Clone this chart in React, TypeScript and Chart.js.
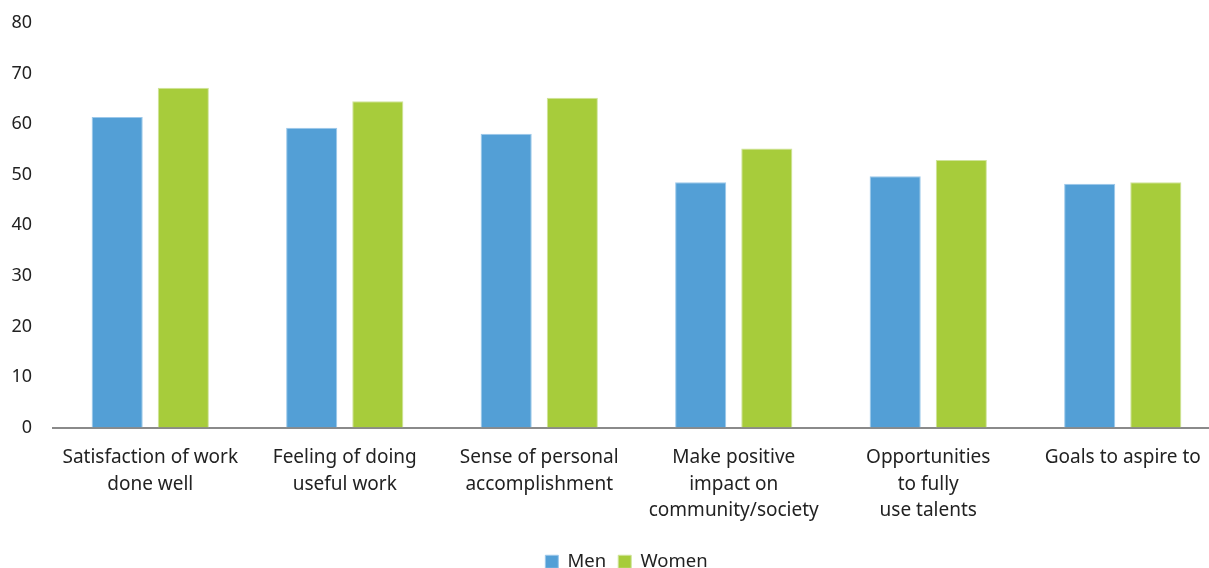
import React, { useEffect, useRef } from "react";
import { Chart, registerables } from "chart.js";

Chart.register(...registerables);

const categories: string[][] = [
  ["Satisfaction of work", "done well"],
  ["Feeling of doing", "useful work"],
  ["Sense of personal", "accomplishment"],
  ["Make positive", "impact on", "community/society"],
  ["Opportunities", "to fully", "use talents"],
  ["Goals to aspire to"],
];
const menValues = [61.4, 59.3, 58.1, 48.5, 49.7, 48.2];
const womenValues = [67.2, 64.5, 65.2, 55.2, 52.9, 48.5];
const yTicks = { min: 0, max: 80, step: 10 };

const FONT = "'Noto Sans', sans-serif";

const legendShift = {
  id: "legendShift",
  afterLayout(chart: any) {
    if (chart.legend) {
      chart.legend.left -= 10;
      chart.legend.right -= 10;
    }
  },
};

export default function App() {
  const ref = useRef<HTMLCanvasElement | null>(null);
  useEffect(() => {
    if (!ref.current) return;
    const chart = new Chart(ref.current, {
      type: "bar",
      data: {
        labels: categories,
        datasets: [
          {
            label: "Men",
            data: menValues,
            backgroundColor: "#539FD6",
            borderColor: "#9CC8EA",
            borderWidth: 1,
            categoryPercentage: 0.68,
            barPercentage: 0.773,
          },
          {
            label: "Women",
            data: womenValues,
            backgroundColor: "#A7CC3B",
            borderColor: "#CFE39A",
            borderWidth: 1,
            categoryPercentage: 0.68,
            barPercentage: 0.773,
          },
        ],
      },
      plugins: [legendShift],
      options: {
        animation: false,
        responsive: true,
        maintainAspectRatio: false,
        layout: { padding: { left: 0, right: 10, top: 0, bottom: -13 } },
        plugins: {
          tooltip: { enabled: false },
          legend: {
            position: "bottom",
            fullSize: false,
            labels: {
              boxWidth: 13,
              boxHeight: 13,
              padding: 12,
              color: "#222",
              font: { family: FONT, size: 18.5 },
            },
          },
        },
        scales: {
          x: {
            grid: { display: false, drawTicks: false },
            border: { display: true, color: "#8a8a8a", width: 2 },
            ticks: {
              color: "#222",
              padding: 17,
              maxRotation: 0,
              autoSkip: false,
              font: { family: FONT, size: 19, lineHeight: 1.4 },
            },
            afterFit: (s: any) => {
              s.height = 113;
            },
          },
          y: {
            min: yTicks.min,
            max: yTicks.max,
            grid: { display: false, drawTicks: false },
            border: { display: false },
            ticks: {
              stepSize: yTicks.step,
              color: "#222",
              padding: 21,
              font: { family: FONT, size: 18 },
            },
            afterFit: (s: any) => {
              s.width = 53;
              s.paddingTop = 23;
              s.paddingBottom = 11;
            },
          },
        },
      },
    });
    return () => chart.destroy();
  }, []);
  return (
    <div style={{ position: "fixed", left: 0, top: 0, width: 1230, height: 568 }}>
      <canvas ref={ref} />
    </div>
  );
}
